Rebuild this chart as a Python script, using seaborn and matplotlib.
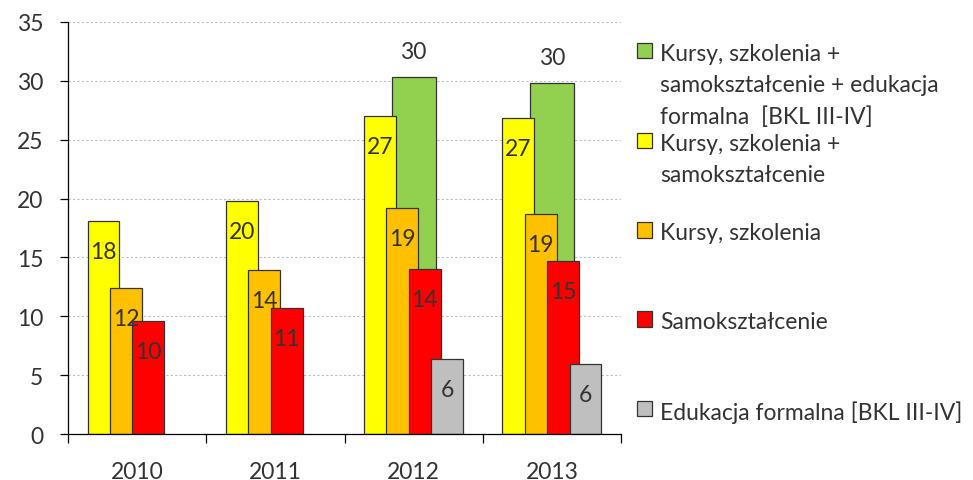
"""Overlapping grouped bars: forms of learning, BKL 2010-2013"""

import matplotlib
matplotlib.use("Agg")
import matplotlib.pyplot as plt
from matplotlib.patches import Patch
import seaborn as sns

sns.set_style("ticks")
plt.rcParams["font.family"] = ["Lato", "DejaVu Sans"]

# data
years = ["2010", "2011", "2012", "2013"]
kursy_samo_edu = [30.3, 29.8]            # only 2012, 2013
kursy_samo_edu_years = [2, 3]
kursy_samo = [18.1, 19.8, 27.0, 26.8]
kursy = [12.4, 13.9, 19.2, 18.7]
samo = [9.6, 10.7, 14.0, 14.7]
edukacja = [6.4, 6.0]                     # only 2012, 2013
edukacja_years = [2, 3]
all_years = [0, 1, 2, 3]

legend_labels = [
    "Kursy, szkolenia +\nsamokształcenie + edukacja\nformalna  [BKL III-IV]",
    "Kursy, szkolenia +\nsamokształcenie\n",
    "Kursy, szkolenia\n\n",
    "Samokształcenie\n\n",
    "Edukacja formalna [BKL III-IV]",
]

TEXT = "#333333"
EDGE = "#333333"
FS = 16.5

# (values, year index, colour, offset within group, bar width, label above?)
series = [
    (kursy_samo_edu, kursy_samo_edu_years, "#92D050", 0.0, 0.318, True),
    (kursy_samo, all_years, "#FFFF00", -0.243, 0.231, False),
    (kursy, all_years, "#FFC000", -0.081, 0.231, False),
    (samo, all_years, "#FF0000", 0.081, 0.231, False),
    (edukacja, edukacja_years, "#BFBFBF", 0.243, 0.231, False),
]

fig = plt.figure(figsize=(9.73, 4.81), dpi=100)
ax = fig.add_axes([68 / 973, 1 - 435.3 / 481, (621 - 68) / 973, (435.3 - 22.7) / 481])

for vals, idx, color, off, w, above in series:
    pos = [i + 0.5 + off for i in idx]
    sns.barplot(x=pos, y=vals, native_scale=True, width=w, color=color,
                saturation=1, edgecolor=EDGE, linewidth=0.9, errorbar=None, ax=ax)
    cont = ax.containers[-1]
    for rect, v in zip(cont, vals):
        ax.annotate(f"{v:.0f}", (rect.get_x() + rect.get_width() / 2, v),
                    xytext=(0, 13.5 if above else -26.6), textcoords="offset points",
                    ha="center", va="baseline", fontsize=FS, color=TEXT)

if ax.get_legend() is not None:
    ax.get_legend().remove()

ax.set_xlim(0, 4)
ax.set_ylim(0, 35)
ax.set_yticks(range(0, 36, 5))
ax.set_xticks([0, 1, 2, 3, 4])
ax.set_xticklabels([])
ax.set_xticks([0.5, 1.5, 2.5, 3.5], minor=True)
ax.set_xticklabels(years, minor=True)
ax.set_xlabel("")
ax.set_ylabel("")

ax.tick_params(axis="x", which="minor", length=0, pad=19, labelsize=FS, labelcolor=TEXT)
ax.tick_params(axis="x", which="major", length=6.5, width=0.9, color="#000000")
ax.tick_params(axis="y", length=5.8, width=0.9, pad=12, labelsize=FS,
               labelcolor=TEXT, color="#000000")

ax.yaxis.grid(True, color="#C0C0C0", linestyle=(0, (2, 2)), linewidth=0.8)
ax.set_axisbelow(True)
sns.despine(ax=ax)
for s in ("left", "bottom"):
    ax.spines[s].set_color("#000000")
    ax.spines[s].set_linewidth(0.9)

handles = [Patch(facecolor=c, edgecolor=EDGE, linewidth=0.9) for _, _, c, _, _, _ in series]
leg = fig.legend(handles, legend_labels, loc="upper left",
                 bbox_to_anchor=(637 / 973, 1 - 44 / 481), frameon=False,
                 borderpad=0, borderaxespad=0, labelspacing=0.25,
                 handlelength=0.65, handleheight=0.65, handletextpad=0.35,
                 prop={"size": FS}, labelcolor=TEXT)
for t in leg.get_texts():
    t.set_linespacing(1.6)
# keep the marker next to the first line of a multi-line label
for col in leg._legend_handle_box.get_children():
    for item in col.get_children():
        item.align = "top"

fig.savefig("out.png", dpi=100)
